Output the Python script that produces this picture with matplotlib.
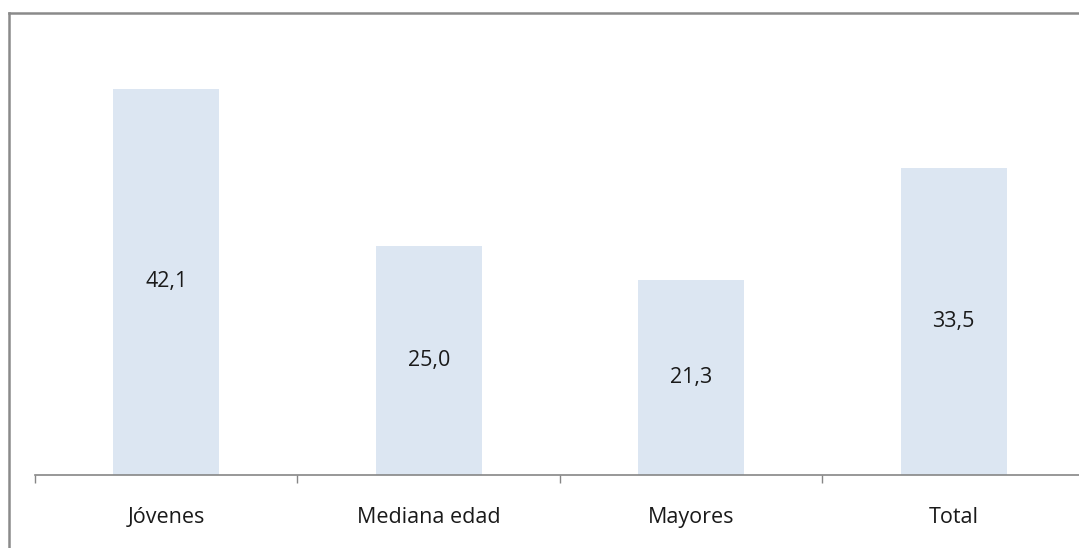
import matplotlib.pyplot as plt
from matplotlib.lines import Line2D

# data
categories = ['Jóvenes', 'Mediana edad', 'Mayores', 'Total']
values = [42.1, 25.0, 21.3, 33.5]
value_labels = ['42,1', '25,0', '21,3', '33,5']

W, H = 1079, 548
fig = plt.figure(figsize=(W / 100, H / 100), dpi=100)

# axes placed in pixel terms: baseline at y=475, spans x=35..1085
base_y = 475
top_y = base_y - 386 * 50 / 42.1
ax = fig.add_axes([35 / W, (H - base_y) / H, 1050 / W, (base_y - top_y) / H])

x = list(range(len(categories)))
ax.bar(x, values, width=0.404, color='#dce6f2', edgecolor='none', zorder=2)

for xi, v, lab in zip(x, values, value_labels):
    ax.text(xi, v / 2, lab, ha='center', va='center', fontsize=15.5,
            family='Open Sans', color='#1a1a1a')

ax.set_xlim(-0.5, 3.5)
ax.set_ylim(0, 50)

for s in ['top', 'right', 'left']:
    ax.spines[s].set_visible(False)
ax.spines['bottom'].set_color('#868686')
ax.spines['bottom'].set_linewidth(1.2)
ax.spines['bottom'].set_zorder(3)

ax.set_yticks([])
ax.set_xticks([-0.5, 0.5, 1.5, 2.5, 3.5])
ax.set_xticklabels([])
ax.tick_params(axis='x', length=6, width=1, color='#868686', direction='out')

for xi, c in zip(x, categories):
    ax.text(xi, -0.093, c, transform=ax.get_xaxis_transform(), ha='center',
            va='center', fontsize=15.5, family='Open Sans', color='#1a1a1a')

# outer frame lines (top and left)
fig.add_artist(Line2D([9 / W, 9 / W], [0, (H - 13) / H], color='#8a8a8a', lw=1.8))
fig.add_artist(Line2D([9 / W, 1], [(H - 13) / H, (H - 13) / H], color='#8a8a8a', lw=1.8))

fig.savefig('out.png', dpi=100)
